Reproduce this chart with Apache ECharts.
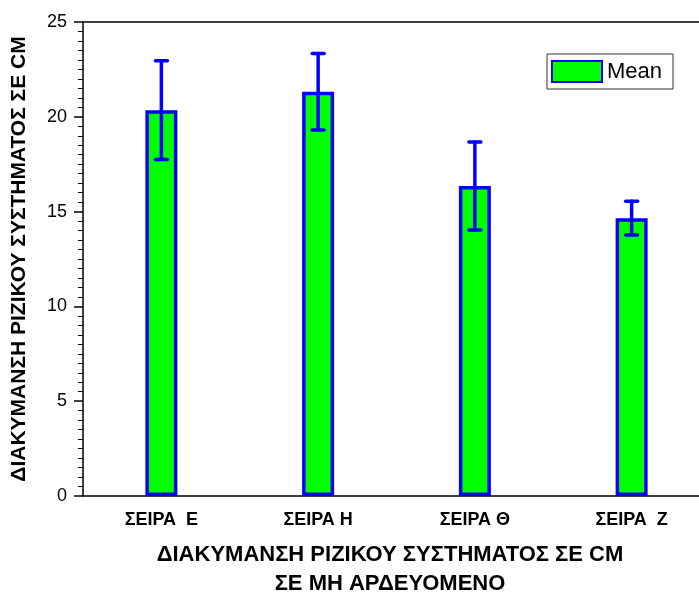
<!DOCTYPE html>
<html lang="el">
<head>
    <meta charset="UTF-8">
    <title>Mean bar chart</title>
    <style>
        html, body { margin: 0; padding: 0; background: #fff; }
    </style>
</head>
<body>
<div id="echart" style="width: 699px; height: 596px;"></div>

<script src="https://cdn.jsdelivr.net/npm/echarts@6/dist/echarts.min.js"></script>
<script>
    var categories = ['ΣΕΙΡΑ  Ε', 'ΣΕΙΡΑ Η', 'ΣΕΙΡΑ Θ', 'ΣΕΙΡΑ  Ζ'];
    var meanValues = [20.35, 21.32, 16.35, 14.65];
    var errValues = [2.6, 2.02, 2.32, 0.89];
    var yTicks = [0, 5, 10, 15, 20, 25];

    var dom = document.getElementById('echart');
    var myChart = echarts.init(dom);

    // low/high for the error bars
    var errData = [];
    for (var i = 0; i < meanValues.length; i++) {
        errData.push([i, meanValues[i] - errValues[i], meanValues[i] + errValues[i]]);
    }

    var font = 'Liberation Sans, Arial, sans-serif';

    var option = {
        animation: false,
        textStyle: { fontFamily: font },
        grid: { left: 83, top: 22, width: 627, height: 474, outerBoundsMode: 'none', containLabel: false },
        legend: {
            data: ['Mean'],
            left: 547,
            top: 54,
            itemWidth: 50,
            itemHeight: 21,
            itemGap: 5,
            padding: [6, 11, 6, 4],
            borderColor: '#333',
            borderWidth: 1,
            icon: 'rect',
            textStyle: { fontSize: 22, color: '#000', fontFamily: font }
        },
        xAxis: [
            {
                type: 'category',
                data: categories,
                position: 'bottom',
                axisLine: { lineStyle: { color: '#000', width: 1.5 } },
                axisTick: { alignWithLabel: true, length: 9, lineStyle: { color: '#000', width: 1.5 } },
                axisLabel: { color: '#000', fontWeight: 'bold', fontSize: 18, margin: 15, fontFamily: font }
            },
            {
                // short ticks between categories
                type: 'category',
                data: categories,
                position: 'bottom',
                axisLine: { show: false },
                axisTick: { length: 5, lineStyle: { color: '#000', width: 1.5 } },
                axisLabel: { show: false }
            },
            {
                type: 'category',
                data: categories,
                position: 'top',
                axisLine: { lineStyle: { color: '#000', width: 1.5 } },
                axisTick: { alignWithLabel: true, length: 3, lineStyle: { color: '#000' } },
                axisLabel: { show: false }
            }
        ],
        yAxis: {
            type: 'value',
            min: yTicks[0],
            max: yTicks[yTicks.length - 1],
            interval: 5,
            name: 'ΔΙΑΚΥΜΑΝΣΗ ΡΙΖΙΚΟΥ ΣΥΣΤΗΜΑΤΟΣ ΣΕ CM',
            nameLocation: 'middle',
            nameGap: 53,
            nameTextStyle: { color: '#000', fontWeight: 'bold', fontSize: 21, fontFamily: font },
            axisLine: { show: true, lineStyle: { color: '#000', width: 1.5 } },
            axisTick: { show: true, length: 9, lineStyle: { color: '#000', width: 1.5 } },
            minorTick: { show: true, splitNumber: 10, length: 5, lineStyle: { color: '#000', width: 1 } },
            axisLabel: { color: '#000', fontSize: 18, margin: 16, fontFamily: font },
            splitLine: { show: false }
        },
        graphic: [
            {
                type: 'text',
                x: 390,
                y: 555,
                style: {
                    text: 'ΔΙΑΚΥΜΑΝΣΗ ΡΙΖΙΚΟΥ ΣΥΣΤΗΜΑΤΟΣ ΣΕ CM',
                    align: 'center',
                    verticalAlign: 'middle',
                    fill: '#000',
                    font: 'bold 22px ' + font
                }
            },
            {
                type: 'text',
                x: 390,
                y: 584,
                style: {
                    text: 'ΣΕ ΜΗ ΑΡΔΕΥΟΜΕΝΟ',
                    align: 'center',
                    verticalAlign: 'middle',
                    fill: '#000',
                    font: 'bold 22px ' + font
                }
            }
        ],
        series: [
            {
                name: 'Mean',
                type: 'bar',
                data: meanValues,
                barWidth: 32,
                xAxisIndex: 0,
                itemStyle: { color: '#00ff00', borderColor: '#0000ff', borderWidth: 3.5 },
                z: 2
            },
            {
                name: 'err',
                type: 'custom',
                data: errData,
                xAxisIndex: 0,
                z: 3,
                renderItem: function (params, api) {
                    var x = api.value(0);
                    var lo = api.coord([x, api.value(1)]);
                    var hi = api.coord([x, api.value(2)]);
                    var cap = 6;
                    var style = { stroke: '#0000ff', lineWidth: 3.5, lineCap: 'round' };
                    return {
                        type: 'group',
                        children: [
                            { type: 'line', shape: { x1: lo[0], y1: lo[1], x2: hi[0], y2: hi[1] }, style: style },
                            { type: 'line', shape: { x1: lo[0] - cap, y1: lo[1], x2: lo[0] + cap, y2: lo[1] }, style: style },
                            { type: 'line', shape: { x1: hi[0] - cap, y1: hi[1], x2: hi[0] + cap, y2: hi[1] }, style: style }
                        ]
                    };
                }
            }
        ]
    };

    myChart.setOption(option, true);
</script>
</body>
</html>
